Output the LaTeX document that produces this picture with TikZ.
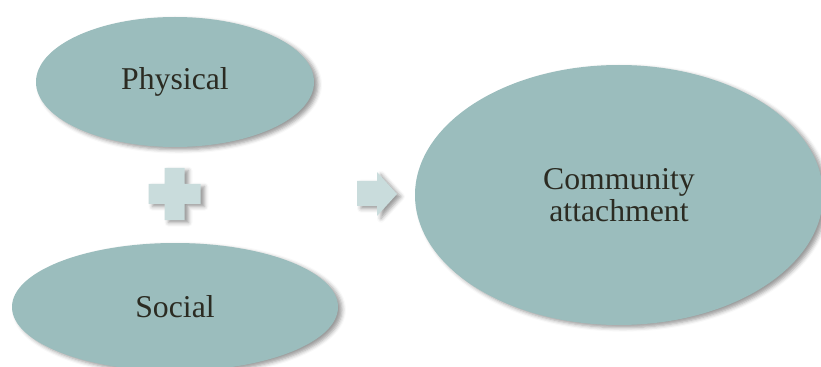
\documentclass[tikz,border=0pt]{standalone}
\usepackage{fontspec}
\setmainfont{Liberation Serif}
\usepackage{tikz}
\usetikzlibrary{shapes.geometric,shadows.blur}
\definecolor{ovalfill}{HTML}{9BBDBD}
\definecolor{signfill}{HTML}{C9DCDC}
\definecolor{labeltext}{HTML}{2B2B22}
\tikzset{
    every node/.style={font=\fontsize{23.8}{24}\selectfont, text=labeltext},
    softshadow/.style={blur shadow={shadow xshift=3pt, shadow yshift=-2pt, shadow blur radius=3pt, shadow opacity=40}},
    oval/.style={ellipse, fill=ovalfill, inner sep=0pt, align=center, softshadow},
    sign/.style={fill=signfill, softshadow}
}

\begin{document}
\begin{tikzpicture}[x=0.75pt, y=-0.75pt]
            \useasboundingbox (0,0) rectangle (821,367);
            \clip (0,0) rectangle (821,367);
            \node[oval, minimum width=208.5pt, minimum height=97.5pt] (physical) at (175,82) {Physical};
            \node[oval, minimum width=244.5pt, minimum height=96pt] (social) at (175,307) {Social};
            \node[oval, minimum width=306pt, minimum height=195pt] (attach) at (619,195) {Community\\attachment};
            
            % plus and arrow
            \fill[sign] (148.5,184) -- (164.5,184) -- (164.5,168) -- (184.5,168) -- (184.5,184)
                -- (200.5,184) -- (200.5,204) -- (184.5,204) -- (184.5,220) -- (164.5,220)
                -- (164.5,204) -- (148.5,204) -- cycle;
            \fill[sign] (357,181) -- (377,181) -- (377,172) -- (397,194) -- (377,216)
                -- (377,206) -- (357,206) -- cycle;
        \end{tikzpicture}
\end{document}
